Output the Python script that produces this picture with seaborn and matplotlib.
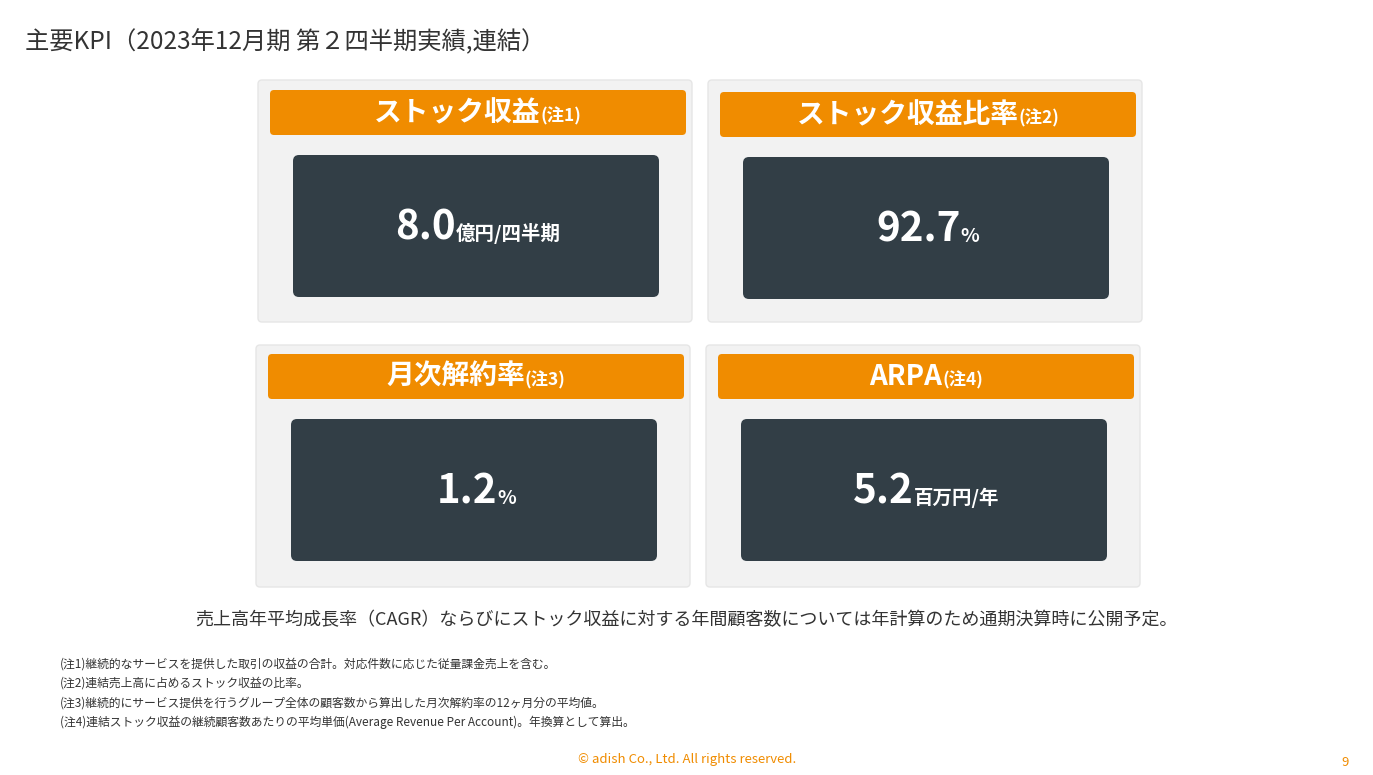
import matplotlib
matplotlib.use("Agg")
import matplotlib.pyplot as plt
import seaborn as sns
from matplotlib.patches import FancyBboxPatch

sns.set_style("white")
plt.rcParams["font.family"] = ["Noto Sans CJK JP", "DejaVu Sans"]

# data
kpi_titles = ["ストック収益", "ストック収益比率", "月次解約率", "ARPA"]
kpi_notes = ["(注1)", "(注2)", "(注3)", "(注4)"]
kpi_values = ["8.0", "92.7", "1.2", "5.2"]
kpi_units = ["億円/四半期", "%", "%", "百万円/年"]
title = "主要KPI（2023年12月期 第２四半期実績,連結）"
summary = "売上高年平均成長率（CAGR）ならびにストック収益に対する年間顧客数については年計算のため通期決算時に公開予定。"
footnotes = [
    "(注1)継続的なサービスを提供した取引の収益の合計。対応件数に応じた従量課金売上を含む。",
    "(注2)連結売上高に占めるストック収益の比率。",
    "(注3)継続的にサービス提供を行うグループ全体の顧客数から算出した月次解約率の12ヶ月分の平均値。",
    "(注4)連結ストック収益の継続顧客数あたりの平均単価(Average Revenue Per Account)。年換算として算出。",
]

ORANGE = "#F08C00"
DARK = "#323E46"
CARD = "#F2F2F2"

# layout: card x, card y, header y, dark y
cards = [(258, 80, 90, 155), (708, 80, 92, 157), (256, 345, 354, 419), (706, 345, 354, 419)]

fig = plt.figure(figsize=(13.73, 7.75), dpi=100)
ax = fig.add_axes([0, 0, 1, 1])
ax.set_xlim(0, 1373)
ax.set_ylim(775, 0)
ax.axis("off")

ax.text(25, 42, title, fontsize=17.5, color="#333333", va="center", ha="left")

fig.canvas.draw()
renderer = fig.canvas.get_renderer()

for i, (cx, cy, hy, dy) in enumerate(cards):
    ax.add_patch(FancyBboxPatch((cx, cy), 434, 242, boxstyle="round,pad=0,rounding_size=4",
                                fc=CARD, ec="#E6E6E6", lw=1))
    ax.add_patch(FancyBboxPatch((cx + 12, hy), 416, 45, boxstyle="round,pad=0,rounding_size=4",
                                fc=ORANGE, ec="none"))
    ax.add_patch(FancyBboxPatch((cx + 35, dy), 366, 142, boxstyle="round,pad=0,rounding_size=6",
                                fc=DARK, ec="none"))
    ccx = cx + 12 + 208
    # header: title + small note, centered together
    for (big, small, y, bs, ss) in [(kpi_titles[i], kpi_notes[i], hy + 23, 20, 12.5),
                                     (kpi_values[i], kpi_units[i], dy + 73, 29, 14)]:
        t1 = ax.text(0, y, big, fontsize=bs, fontweight="bold", color="white", va="center", ha="left")
        t2 = ax.text(0, y + (3 if bs == 20 else 6), small, fontsize=ss, fontweight="bold",
                     color="white", va="center", ha="left")
        w1 = t1.get_window_extent(renderer).width
        w2 = t2.get_window_extent(renderer).width
        x0 = ccx - (w1 + w2) / 2
        t1.set_x(x0)
        t2.set_x(x0 + w1)

ax.text(686, 620, summary, fontsize=13, color="#333333", ha="center", va="center")
for j, fn in enumerate(footnotes):
    ax.text(60, 664 + j * 19.3, fn, fontsize=8.5, color="#333333", ha="left", va="center")

ax.text(687, 760, "© adish Co., Ltd. All rights reserved.", fontsize=9.5, color=ORANGE,
        ha="center", va="center")
ax.text(1345, 762, "9", fontsize=9.5, color=ORANGE, ha="center", va="center")

fig.savefig("out.png", dpi=100)
